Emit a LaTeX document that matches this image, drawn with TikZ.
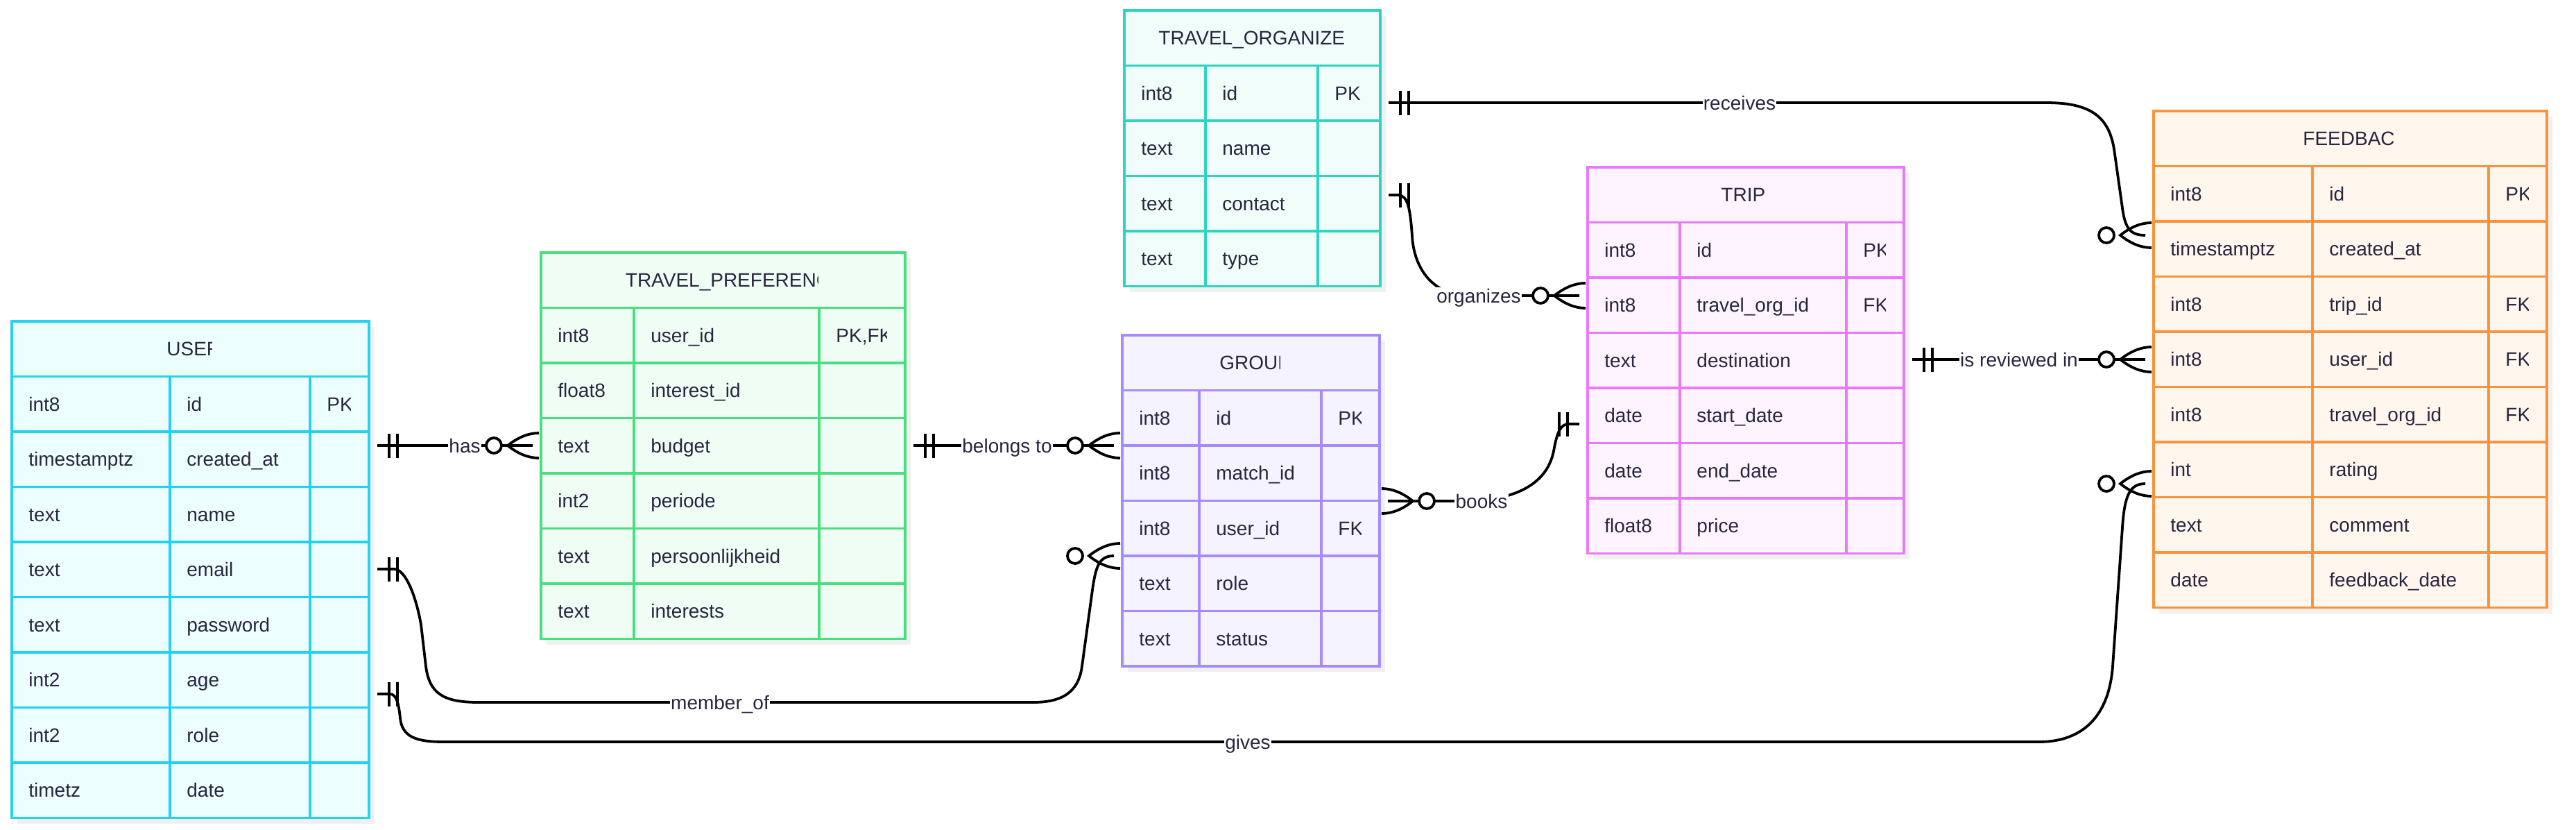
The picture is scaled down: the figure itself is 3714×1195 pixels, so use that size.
\documentclass[tikz,border=0pt]{standalone}
\usepackage{fontspec}
\setmainfont{Liberation Sans}
\definecolor{ink}{HTML}{28253F}
\definecolor{userline}{HTML}{22D3EE}\definecolor{userfill}{HTML}{ECFEFF}
\definecolor{prefline}{HTML}{4ADE80}\definecolor{preffill}{HTML}{F0FDF4}
\definecolor{orgline}{HTML}{2DD4BF}\definecolor{orgfill}{HTML}{F0FDFA}
\definecolor{grpline}{HTML}{A78BFA}\definecolor{grpfill}{HTML}{F5F3FF}
\definecolor{tripline}{HTML}{E879F9}\definecolor{tripfill}{HTML}{FDF4FF}
\definecolor{fbline}{HTML}{FB923C}\definecolor{fbfill}{HTML}{FFF7ED}
\tikzset{
  cell/.style={anchor=base west,inner sep=0pt,text=ink,font=\fontsize{14}{16}\selectfont},
  lbl/.style={anchor=base,fill=white,inner xsep=0.6pt,inner ysep=1pt,text=ink,font=\fontsize{14}{16}\selectfont},
  conn/.style={draw=black,line width=1.9pt},
  tabshadow/.style={fill=black!6},
  onebar/.pic={\draw[conn] (17,-17.5) -- (17,17.5) (29,-17.5) -- (29,17.5);},
  zeromany/.pic={\draw[conn] (-9,-18) .. controls (6,-18) and (21,-12) .. (36,0) .. controls (21,12) and (6,18) .. (-9,18);
    \draw[conn,fill=white] (56,0) circle[radius=5.5pt];}
}
% name, x0, x1, x2, x3, top, title, title half width, rows
\newcommand{\ertable}[9]{%
  \pgfmathsetmacro\erc{(#2+#5)/2}
  \fill[tabshadow] (#2+8,#6+8) rectangle (#5+8,#6+87.5);
  \filldraw[fill=#1fill,draw=#1line,line width=1.8pt] (#2,#6) rectangle (#5,#6+79.5);
  \begin{scope}
    \clip (\erc-#8-6,#6) rectangle (\erc+#8-2,#6+79.5);
    \node[cell] (#1) at (\erc-#8-2,#6+49.75) {#7};
  \end{scope}
  \foreach \a/\b/\c [count=\i] in {#9}{
    \pgfmathsetmacro\ert{#6+\i*79.5}
    \pgfmathsetmacro\erb{\ert+79.5}
    \fill[tabshadow] (#2+8,\ert+8) rectangle (#5+8,\erb+8);
    \filldraw[fill=#1fill,draw=#1line,line width=1.8pt] (#2,\ert) rectangle (#5,\erb);
    \draw[#1line,line width=1.8pt] (#3,\ert) -- (#3,\erb) (#4,\ert) -- (#4,\erb);
    \node[cell] (#1-\i-type) at (#2+24,\ert+49.75) {\a};
    \node[cell] (#1-\i-field) at (#3+24,\ert+49.75) {\b};
    \begin{scope}
      \clip (#4,\ert) rectangle (#5-27,\erb);
      \node[cell] (#1-\i-key) at (#4+24,\ert+49.75) {\c};
    \end{scope}
  }
}

\begin{document}
\begin{tikzpicture}[x=0.5pt,y=-0.5pt]
\fill[white] (0,0) rectangle (3714,1195);

\ertable{user}{17}{245}{447}{532}{463}{USER}{32.5}{int8/id/PK,timestamptz/created\_at/{},text/name/{},text/email/{},text/password/{},int2/age/{},int2/role/{},timetz/date/{}}
\ertable{pref}{780}{914}{1181}{1305}{364}{TRAVEL\_PREFERENCE}{139}{int8/user\_id/{PK,FK},float8/interest\_id/{},text/budget/{},int2/periode/{},text/persoonlijkheid/{},text/interests/{}}
\ertable{org}{1621}{1738}{1900}{1990}{15}{TRAVEL\_ORGANIZER}{133.5}{int8/id/PK,text/name/{},text/contact/{},text/type/{}}
\ertable{grp}{1618}{1729}{1905}{1989}{483}{GROUP}{43.5}{int8/id/PK,int8/match\_id/{},int8/user\_id/FK,text/role/{},text/status/{}}
\ertable{trip}{2289}{2422}{2662}{2745}{241}{TRIP}{34}{int8/id/PK,int8/travel\_org\_id/FK,text/destination/{},date/start\_date/{},date/end\_date/{},float8/price/{}}
\ertable{fb}{3105}{3334}{3588}{3672}{160}{FEEDBACK}{66.5}{int8/id/PK,timestamptz/created\_at/{},int8/trip\_id/FK,int8/user\_id/FK,int8/travel\_org\_id/FK,int/rating/{},text/comment/{},date/feedback\_date/{}}

\coordinate (user-has) at (544,642);
\coordinate (pref-has) at (768,642);
\coordinate (pref-grp) at (1317,642);
\coordinate (grp-pref) at (1606,642);
\coordinate (user-mem) at (544,820);
\coordinate (grp-mem) at (1606,801);
\coordinate (user-fb) at (544,1000);
\coordinate (fb-user) at (3093,697);
\coordinate (org-fb) at (2002,148);
\coordinate (fb-org) at (3093,339);
\coordinate (org-trip) at (2002,281);
\coordinate (trip-org) at (2277,426);
\coordinate (grp-trip) at (2001,722);
\coordinate (trip-grp) at (2277,611);
\coordinate (trip-fb) at (2757,518);
\coordinate (fb-trip) at (3093,518);

\draw[conn] (user-has) -- (pref-has);
\draw[conn] (pref-grp) -- (grp-pref);
\draw[conn] (trip-fb) -- (fb-trip);
\draw[conn] (org-fb) -- (2950,148) .. controls (3010,148) and (3040,165) .. (3048,215) -- (3060,300) .. controls (3064,330) and (3072,339) .. (fb-org);
\draw[conn] (org-trip) -- (2015,281) .. controls (2030,281) and (2033,300) .. (2036,340) .. controls (2038,380) and (2060,426) .. (2120,426) -- (trip-org);
\draw[conn] (grp-trip) -- (2110,722) .. controls (2180,722) and (2230,700) .. (2240,650) .. controls (2245,622) and (2250,611) .. (2262,611) -- (trip-grp);
\draw[conn] (user-mem) -- (568,820) .. controls (585,820) and (600,860) .. (607,900) -- (614,960) .. controls (619,1000) and (640,1012) .. (690,1012) -- (1490,1012) .. controls (1540,1012) and (1556,990) .. (1560,960) -- (1575,850) .. controls (1580,815) and (1585,801) .. (grp-mem);
\draw[conn] (user-fb) -- (562,1000) .. controls (572,1000) and (575,1015) .. (577,1035) .. controls (580,1062) and (600,1069) .. (640,1069) -- (2940,1069) .. controls (2995,1069) and (3040,1040) .. (3046,960) -- (3060,760) .. controls (3063,715) and (3070,697) .. (fb-user);

\node[lbl] (has) at (670,652) {has};
\node[lbl] (belongs) at (1452,652) {belongs to};
\node[lbl] (memberof) at (1038,1022) {member\_of};
\node[lbl] (gives) at (1799,1079) {gives};
\node[lbl] (receives) at (2508,158) {receives};
\node[lbl] (organizes) at (2132,436) {organizes};
\node[lbl] (books) at (2136,732) {books};
\node[lbl] (reviewed) at (2911,528) {is reviewed in};

\pic at (user-has) {onebar};
\pic[xscale=-1] at (pref-has) {zeromany};
\pic at (pref-grp) {onebar};
\pic[xscale=-1] at (grp-pref) {zeromany};
\pic at (user-mem) {onebar};
\pic[xscale=-1] at (grp-mem) {zeromany};
\pic at (user-fb) {onebar};
\pic[xscale=-1] at (fb-user) {zeromany};
\pic at (org-fb) {onebar};
\pic[xscale=-1] at (fb-org) {zeromany};
\pic at (org-trip) {onebar};
\pic[xscale=-1] at (trip-org) {zeromany};
\pic at (grp-trip) {zeromany};
\pic[xscale=-1] at (trip-grp) {onebar};
\pic at (trip-fb) {onebar};
\pic[xscale=-1] at (fb-trip) {zeromany};
\end{tikzpicture}
\end{document}
